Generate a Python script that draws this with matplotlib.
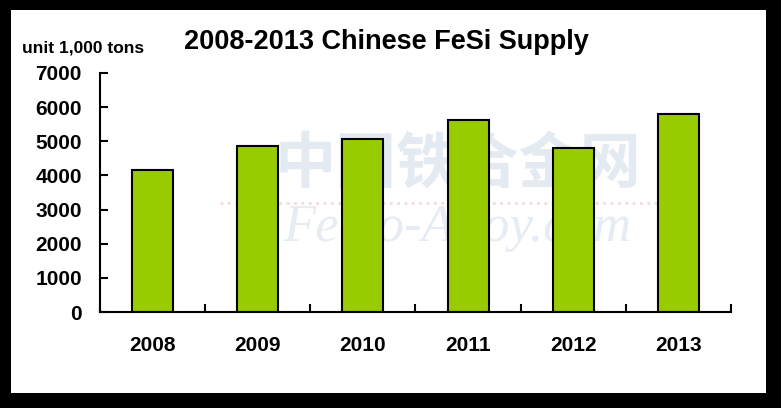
import matplotlib.pyplot as plt
from matplotlib.patches import Rectangle

# === Datos ===
years = ["2008", "2009", "2010", "2011", "2012", "2013"]
supply = [4150, 4850, 5080, 5630, 4790, 5790]
y_ticks = [0, 1000, 2000, 3000, 4000, 5000, 6000, 7000]

W, H = 781, 408
fig = plt.figure(figsize=(W / 100, H / 100), dpi=100, facecolor="black")

# marco blanco dentro del fondo negro
fig.patches.append(Rectangle((11 / W, 1 - 393 / H), (766 - 11) / W, (393 - 10) / H,
                             transform=fig.transFigure, facecolor="white",
                             edgecolor="none", zorder=-5))

ax = fig.add_axes([100 / W, 1 - 312 / H, (731 - 100) / W, (312 - 73) / H])
ax.set_facecolor("none")

# marca de agua
ax.text(2.9, 4300, "中国铁合金网", fontsize=44, color="#e4eaf2", ha="center", va="center",
        family=["Noto Sans CJK SC", "DejaVu Sans"], fontweight="bold", zorder=0)
ax.text(2.9, 2450, "Ferro-Alloy.com", fontsize=38, color="#e6ecf4", ha="center", va="center",
        family="Liberation Serif", style="italic", zorder=0)
ax.axhline(3200, xmin=0.19, xmax=0.89, color="#f4dada", lw=2, ls=":", zorder=0)

x = list(range(len(years)))
ax.bar(x, supply, width=0.39, color="#99cc00", edgecolor="black", linewidth=1.5, zorder=2)

ax.set_xlim(-0.5, 5.5)
ax.set_ylim(0, 7000)
ax.spines["top"].set_visible(False)
ax.spines["right"].set_visible(False)
for s in ("left", "bottom"):
    ax.spines[s].set_linewidth(1.5)

ax.set_yticks(y_ticks)
ax.set_yticklabels([str(v) for v in y_ticks], fontsize=15, fontweight="bold",
                   family="Liberation Sans")
ax.tick_params(axis="y", direction="in", length=6, width=1.5, pad=13)

ax.set_xticks([i + 0.5 for i in range(-1, 6)])
ax.set_xticklabels([])
ax.set_xticks(x, minor=True)
ax.set_xticklabels(years, minor=True, fontsize=15, fontweight="bold", family="Liberation Sans")
ax.tick_params(axis="x", which="minor", length=0, pad=17)
ax.tick_params(axis="x", which="major", direction="in", length=6, width=1.5)

fig.text(386 / W, 1 - 42 / H, "2008-2013 Chinese FeSi Supply", fontsize=19.5, fontweight="bold",
         family="Liberation Sans", ha="center", va="center")
fig.text(22 / W, 1 - 48 / H, "unit 1,000 tons", fontsize=12.5, fontweight="bold",
         family="Liberation Sans", ha="left", va="center")

fig.savefig("out.png", dpi=100, facecolor="black")
